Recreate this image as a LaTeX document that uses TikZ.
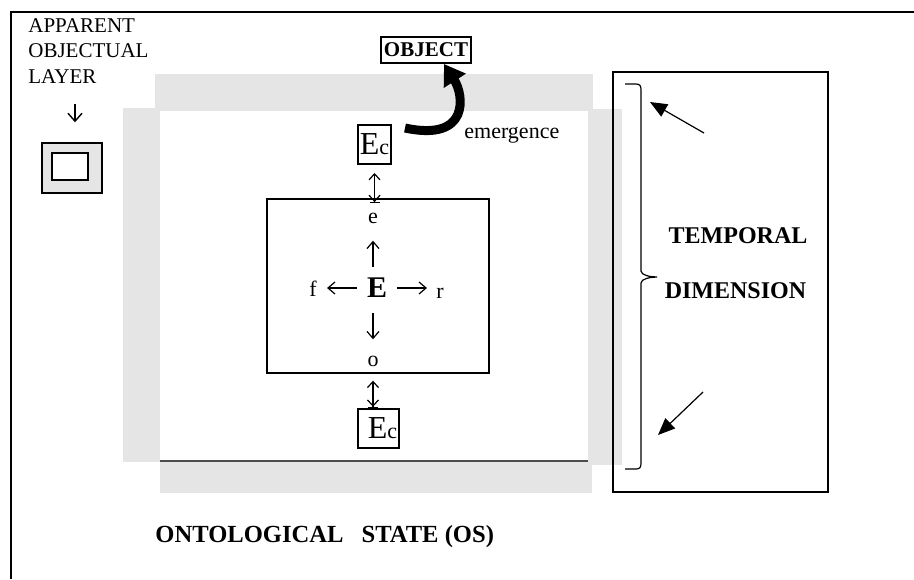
\documentclass[tikz,border=0pt]{standalone}
\usepackage{fontspec}
\setmainfont{Liberation Serif}
\usetikzlibrary{arrows.meta,positioning}

\begin{document}
\begin{tikzpicture}[
  x=0.5pt, y=-0.5pt,
  band/.style={fill=gray!20},
  plainbox/.style={draw, line width=0.6pt, inner sep=0pt},
  ecbox/.style={draw, line width=1pt, inner xsep=1pt, inner ysep=0pt, minimum height=19.5pt},
  lbl/.style={inner sep=0pt, font=\fontsize{10.5}{12.75}\selectfont},
  hdr/.style={inner sep=0pt, font=\fontsize{12}{14}\selectfont\bfseries},
  sym/.style={inner sep=0pt, font=\fontsize{11}{13}\selectfont},
  flow/.style={line width=0.6pt, -{Straight Barb[length=3.5pt,width=6pt]}},
  both/.style={line width=0.6pt, {Straight Barb[length=3pt,width=5.5pt]}-{Straight Barb[length=3pt,width=5.5pt]Bar[width=5pt]}},
  pointer/.style={line width=0.6pt, -{Triangle[length=8.5pt,width=7pt]}}
]
\useasboundingbox (0,0) rectangle (914,579);

% page frame, top and left edge only
\draw[line width=1.2pt] (914,12) -- (11,12) -- (11,579);

% grey layers round the state
\fill[band] (155,74) rectangle (593,111);
\fill[band] (123,108) rectangle (160,462);
\fill[band] (588,109) rectangle (622,465);
\fill[band] (160,461) rectangle (592,493);
\draw[line width=0.6pt, gray!60!black] (160,461) -- (588,461);

% apparent layer legend
\node[lbl, align=left, anchor=north west] (layer) at (28,18) {APPARENT\\OBJECTUAL\\LAYER};
\node[draw, line width=0.7pt, fill=gray!20, minimum width=30pt, minimum height=25pt, inner sep=0pt] (icon) at (72,168) {};
\node[draw, line width=0.7pt, fill=white, minimum width=18pt, minimum height=13.5pt, inner sep=0pt] (iconin) at (70,166.5) {};
\coordinate (layerarr) at (75,104);
\draw[line width=0.7pt, -{Straight Barb[length=4pt,width=7pt]}, shorten >=10pt] (layerarr) -- (layerarr |- icon.north);

% object and its emergence
\node[draw, line width=1pt, inner xsep=1.5pt, inner ysep=0pt, minimum height=13pt,
      font=\fontsize{10.5}{12}\selectfont\bfseries] (object) at (426,50) {OBJECT};
\coordinate (emtail) at (405,128);
\draw[line width=4.5pt, -{Triangle[length=10pt,width=12.5pt]}]
  (emtail) .. controls (470,142) and (464,95) .. ([xshift=9pt]object.south);
\node[sym, anchor=base west] (emerge) at (464,138) {emergence};

% E_c boxes
\node[ecbox] (ectop) at (374.5,144.5) {{\fontsize{16}{16}\selectfont E}{\fontsize{11}{11}\selectfont c}};
\node[ecbox] (ecbot) at (378.5,428.5) {\hspace{4pt}{\fontsize{16}{16}\selectfont E}{\fontsize{11}{11}\selectfont c}};

% core with the four directions
\node[plainbox, minimum width=111pt, minimum height=87pt] (core) at (378,286) {};
\node[sym] (e) at (373,218) {e};
\node[sym, font=\fontsize{15}{15}\selectfont\bfseries] (E) at (377,288) {E};
\node[sym] (f) at (313,289) {f};
\node[sym] (r) at (440,293) {r};
\node[sym] (o) at (373,361) {o};

\draw[flow, shorten <=5.5pt, shorten >=8.5pt] (E.north -| e) -- (e.south);
\draw[flow, shorten <=7.5pt, shorten >=8pt] (E.south -| o) -- (o.north);
\draw[flow, shorten <=5pt, shorten >=5pt] (E.west) -- (f.east |- E.west);
\draw[flow, shorten <=5pt, shorten >=4.5pt] (E.east) -- (r.west |- E.east);

\draw[both, shorten <=4pt, shorten >=4.5pt] (ectop.south) -- (ectop.south |- e.north);
\draw[both, shorten <=7pt] (o.south) -- (o.south |- ecbot.north);

% temporal dimension
\node[plainbox, minimum width=107.5pt, minimum height=210pt] (tbox) at (720.5,282) {};
\coordinate (btop) at (625,84);
\coordinate (bbot) at (625,469);
% brace with short curled ends and a small point at half height
\draw[line width=0.6pt] (btop) -- (636,84) .. controls (640,84) and (641,86) .. (641,90)
  -- (641,271) .. controls (641,275) and (650,277) .. (657,277)
  .. controls (650,277) and (641,279) .. (641,283)
  -- (641,463) .. controls (641,467) and (640,469) .. (636,469) -- (bbot);
\node[hdr, anchor=base] (temporal) at (738,243) {TEMPORAL};
\node[hdr, anchor=base] (dimension) at (735.5,298) {DIMENSION};
\coordinate (ttail) at (704,133);
\coordinate (btail) at (703,392);
\draw[pointer] (ttail) -- ([shift={(25,18)}]btop);
\draw[pointer] (btail) -- ([shift={(33,-34)}]bbot);

\node[hdr, font=\fontsize{12.3}{14}\selectfont\bfseries, anchor=base west] (os) at (155,542) {ONTOLOGICAL\hspace{9pt}STATE (OS)};
\end{tikzpicture}
\end{document}
